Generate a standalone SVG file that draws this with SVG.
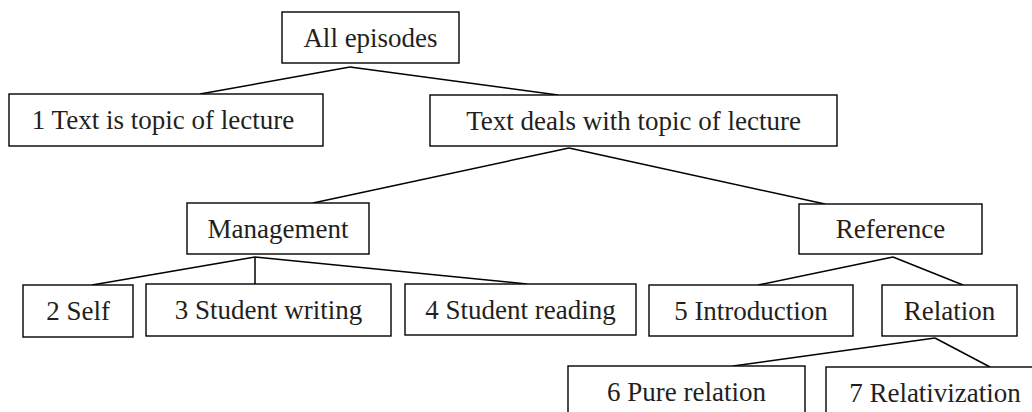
<svg xmlns="http://www.w3.org/2000/svg" width="1032" height="412" viewBox="0 0 1032 412">
<style>
rect{fill:#fff;stroke:#000;stroke-width:1.4}
text{font-family:"Liberation Serif","Times New Roman",serif;font-size:27px;fill:#231f20;text-anchor:middle}
.c line{stroke:#000;stroke-width:1.5}
</style>
<rect x="0" y="0" width="1032" height="412" style="stroke:none"/>
<g class="c" id="connectors">
<line x1="350" y1="67" x2="200" y2="94"/>
<line x1="350" y1="67" x2="558" y2="95"/>
<line x1="569" y1="148" x2="313" y2="203"/>
<line x1="569" y1="148" x2="825" y2="204"/>
<line x1="255" y1="257" x2="92" y2="285"/>
<line x1="255" y1="257" x2="255" y2="284"/>
<line x1="255" y1="257" x2="527" y2="284"/>
<line x1="893" y1="257" x2="758" y2="285"/>
<line x1="893" y1="257" x2="963" y2="285"/>
<line x1="935" y1="338" x2="733" y2="366"/>
<line x1="935" y1="338" x2="990" y2="367"/>
</g>
<g id="all"><rect x="282" y="12" width="177" height="51"/><text x="370.5" y="47">All episodes</text></g>
<g id="n1"><rect x="9" y="94" width="314" height="52"/><text x="163" y="129">1 Text is topic of lecture</text></g>
<g id="deals"><rect x="430" y="95" width="407" height="51"/><text x="633.5" y="130">Text deals with topic of lecture</text></g>
<g id="management"><rect x="187" y="203" width="182" height="51"/><text x="278" y="238">Management</text></g>
<g id="reference"><rect x="799" y="204" width="183" height="50"/><text x="890.5" y="238">Reference</text></g>
<g id="n2"><rect x="23" y="285" width="110" height="52"/><text x="78" y="320">2 Self</text></g>
<g id="n3"><rect x="146" y="284" width="245" height="52"/><text x="268.5" y="319">3 Student writing</text></g>
<g id="n4"><rect x="405" y="284" width="231" height="51"/><text x="520.5" y="319">4 Student reading</text></g>
<g id="n5"><rect x="649" y="285" width="204" height="51"/><text x="751" y="320">5 Introduction</text></g>
<g id="relation"><rect x="882" y="285" width="135" height="51"/><text x="949.5" y="320">Relation</text></g>
<g id="n6"><rect x="568" y="366" width="237" height="60"/><text x="686.5" y="401">6 Pure relation</text></g>
<g id="n7"><rect x="826" y="367" width="218" height="60"/><text x="935" y="402">7 Relativization</text></g>
</svg>
